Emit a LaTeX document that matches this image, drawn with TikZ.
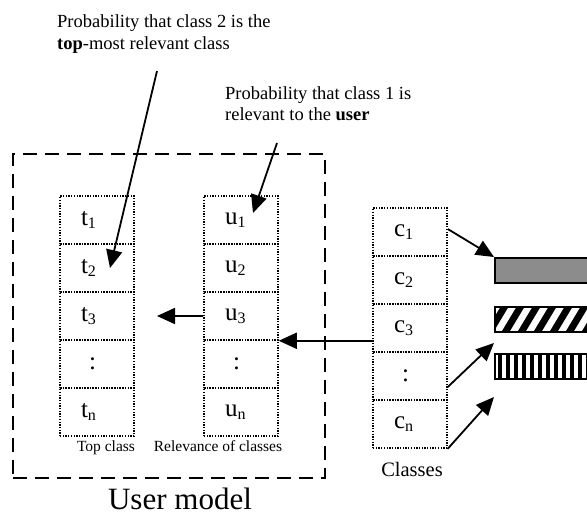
\documentclass[tikz,border=0pt]{standalone}
\usepackage{fontspec}
\setmainfont{Liberation Serif}
\usetikzlibrary{arrows.meta}
\newcommand{\sbx}[1]{\raisebox{-3pt}{\fontsize{16}{16}\selectfont #1}}
\begin{document}
\begin{tikzpicture}[x=1pt,y=-1pt,
 cell/.style={draw, line width=1.5pt, dash pattern=on 1.3pt off 1.4pt, minimum height=48pt, inner ysep=0pt, inner xsep=21pt, text width=32pt, align=left, font=\fontsize{25}{25}\selectfont},
 arr/.style={line width=1.8pt, -{Triangle[length=18pt,width=16pt]}},
 lab/.style={font=\fontsize{15.5}{18}\selectfont, inner sep=0pt, anchor=base},
 ann/.style={font=\fontsize{18.5}{21}\selectfont, anchor=base west, inner sep=0pt},
 bar/.style={draw, line width=1.5pt, minimum width=110pt, minimum height=25pt, anchor=north west, inner sep=0pt}
]
\useasboundingbox (0,0) rectangle (587,515);
% user model box
\node[draw, line width=2.2pt, dash pattern=on 14pt off 8pt, minimum width=312pt, minimum height=324pt, inner sep=0pt] (umodel) at (169,316) {};
% columns
\foreach \i/\y/\t in {1/220/t\sbx{1},2/268/t\sbx{2},3/316/t\sbx{3},4/364/\hspace{8pt}:,5/412/t\sbx{n}}
  \node[cell] (t\i) at (97,\y) {\t};
\foreach \i/\y/\t in {1/220/u\sbx{1},2/268/u\sbx{2},3/316/u\sbx{3},4/364/\hspace{8pt}:,5/412/u\sbx{n}}
  \node[cell] (u\i) at (241,\y) {\t};
\foreach \i/\y/\t in {1/232/c\sbx{1},2/280/c\sbx{2},3/328/c\sbx{3},4/376/\hspace{8pt}:,5/424/c\sbx{n}}
  \node[cell] (c\i) at (410,\y) {\t};
% labels
\node[lab] (ltop) at (106,451) {Top class};
\node[lab] (lrel) at (218,451) {Relevance of classes};
\node[lab, font=\fontsize{20.5}{22}\selectfont] (lcls) at (412,476) {Classes};
\node[lab, font=\fontsize{31}{33}\selectfont] (lum) at (180,509) {User model};
% annotations
\node[ann] (a1l1) at (57,27) {Probability that class 2 is the};
\node[ann] (a1l2) at (57,49) {\textbf{top}-most relevant class};
\node[ann] (a2l1) at (225,99) {Probability that class 1 is};
\node[ann] (a2l2) at (225,120) {relevant to the \textbf{user}};
% bars
\begin{scope}
  \clip (494,306) rectangle (605,331);
  \foreach \x in {470,486,...,620} \fill (\x,331) -- (\x+8,331) -- (\x+23,306) -- (\x+15,306) -- cycle;
\end{scope}
\begin{scope}
  \clip (494,353) rectangle (605,379);
  \foreach \x in {498,506,...,620} \fill (\x,353) rectangle (\x+4,379);
\end{scope}
\node[bar, fill={rgb,255:red,140;green,140;blue,140}] (bar1) at (494,257) {};
\node[bar] (bar2) at (494,306) {};
\node[bar] (bar3) at (494,353) {};
% connector ends
\coordinate (a1s) at (157,71);
\coordinate (a1e) at (110,268);
\coordinate (a2s) at (277,143);
\coordinate (a2e) at (253,213);
\coordinate (lt) at (157,316);
\coordinate (p2) at (494,343);
\coordinate (p3) at (494,397);
% connectors
\draw[arr] (a1s) -- (a1e);
\draw[arr] (a2s) -- (a2e);
\draw[arr] (u3.west) -- (lt);
\draw[arr] (c3.west |- u3.south east) -- (u3.south east);
\draw[arr] ([yshift=3pt]c1.east) -- (bar1.north west);
\draw[arr] ([yshift=-11pt]c4.east) -- (p2);
\draw[arr] (c5.south east) -- (p3);
\end{tikzpicture}
\end{document}
